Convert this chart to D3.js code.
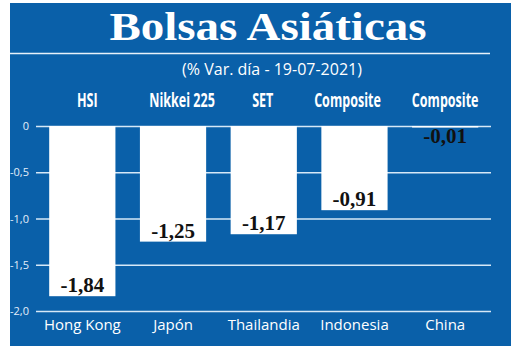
<!DOCTYPE html>
<html>
<head>
<meta charset="utf-8">
<script src="https://cdn.jsdelivr.net/npm/d3@7"></script>
<style>
  html, body { margin: 0; padding: 0; background: #fff; }
  svg { display: block; }
</style>
</head>
<body>
<div class="chart"></div>
<script>
const countries = ["Hong Kong", "Japón", "Thailandia", "Indonesia", "China"];
const indices = ["HSI", "Nikkei 225", "SET", "Composite", "Composite"];
const changes = [-1.84, -1.25, -1.17, -0.91, -0.01];
const yTicks = [0, -0.5, -1.0, -1.5, -2.0];

const width = 520;
const height = 352;
const blue = "#0a60a9";

const es = d3.formatLocale({decimal: ",", thousands: ".", grouping: [3], currency: ["", "€"], minus: "-"});
const tickFmt = v => v === 0 ? "0" : es.format(".1f")(v);
const valFmt = es.format(".2f");

const svg = d3.select(".chart")
  .append("svg")
    .attr("width", width)
    .attr("height", height);

// panel
svg.append("rect")
  .attr("x", 10).attr("y", 3)
  .attr("width", 501).attr("height", 343)
  .attr("fill", blue);

svg.append("text")
  .attr("x", 268).attr("y", 40)
  .attr("text-anchor", "middle")
  .attr("fill", "#fff")
  .attr("font-family", "'Liberation Serif', serif")
  .attr("font-weight", "bold")
  .attr("font-size", 40)
  .attr("textLength", 317)
  .attr("lengthAdjust", "spacingAndGlyphs")
  .text("Bolsas Asiáticas");

svg.append("line")
  .attr("x1", 10).attr("x2", 490)
  .attr("y1", 53.5).attr("y2", 53.5)
  .attr("stroke", "#e8f1fa")
  .attr("stroke-width", 1.5);

svg.append("text")
  .attr("x", 272).attr("y", 75)
  .attr("text-anchor", "middle")
  .attr("fill", "#fff")
  .attr("font-family", "'Open Sans', sans-serif")
  .attr("font-size", 16)
  .text("(% Var. día - 19-07-2021)");

const x = d3.scaleBand()
  .domain(d3.range(countries.length))
  .range([36.5, 491])
  .paddingInner(0.27)
  .paddingOuter(0.14);

const y = d3.scaleLinear()
  .domain([0, -2])
  .range([126, 311]);

// grid + tick labels
const yAxis = g => g
  .attr("transform", "translate(36,0)")
  .call(d3.axisLeft(y).tickValues(yTicks).tickFormat(tickFmt).tickSize(-455).tickPadding(7))
  .call(g => g.select(".domain").remove())
  .call(g => g.selectAll(".tick line").attr("stroke", "#d6e8f7").attr("stroke-width", 1.6))
  .call(g => g.selectAll(".tick text")
    .attr("fill", "#e3eef9")
    .attr("font-family", "'Open Sans', sans-serif")
    .attr("font-size", 11));

svg.append("g").call(yAxis);

// index names on top (condensed look)
svg.append("g")
  .selectAll("text")
  .data(indices)
  .join("text")
    .attr("x", (d, i) => x(i) + x.bandwidth() / 2 + [5, 9, -1, -7, 0][i])
    .attr("y", 107)
    .attr("text-anchor", "middle")
    .attr("fill", "#fff")
    .attr("font-family", "'Open Sans', sans-serif")
    .attr("font-weight", "bold")
    .attr("font-size", 19)
    .text(d => d)
    .each(function() {
      const w = this.getComputedTextLength();
      d3.select(this).attr("textLength", w * 0.66).attr("lengthAdjust", "spacingAndGlyphs");
    });

// bars
svg.append("g")
  .selectAll("rect")
  .data(changes)
  .join("rect")
    .attr("fill", "#fff")
    .attr("x", (d, i) => x(i))
    .attr("y", y(0))
    .attr("width", x.bandwidth())
    .attr("height", d => Math.max(1.5, y(d) - y(0)));

// value labels
svg.append("g")
  .selectAll("text")
  .data(changes)
  .join("text")
    .attr("x", (d, i) => x(i) + x.bandwidth() / 2)
    .attr("y", d => y(d) - y(0) > 30 ? y(d) - 4 : y(d) + 16)
    .attr("text-anchor", "middle")
    .attr("fill", "#111")
    .attr("font-family", "'Liberation Serif', serif")
    .attr("font-weight", "bold")
    .attr("font-size", 21)
    .text(d => valFmt(d));

// country names
const xAxis = g => g
  .attr("transform", "translate(0,311)")
  .call(d3.axisBottom(x).tickFormat(i => countries[i]).tickSize(0).tickPadding(8))
  .call(g => g.select(".domain").remove())
  .call(g => g.selectAll(".tick text")
    .attr("fill", "#fff")
    .attr("font-family", "'Open Sans', sans-serif")
    .attr("font-size", 15));

svg.append("g").call(xAxis);
</script>
</body>
</html>
